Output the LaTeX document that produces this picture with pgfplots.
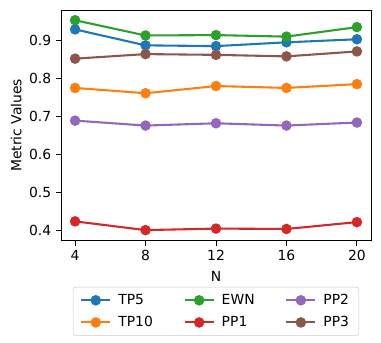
\documentclass[border=0pt]{standalone}
\usepackage{fontspec}
\setmainfont{DejaVu Sans}
\usepackage{pgfplots}
\pgfplotsset{compat=1.18}

\definecolor{c0}{HTML}{1F77B4}
\definecolor{c1}{HTML}{FF7F0E}
\definecolor{c2}{HTML}{2CA02C}
\definecolor{c3}{HTML}{D62728}
\definecolor{c4}{HTML}{9467BD}
\definecolor{c5}{HTML}{8C564B}

\begin{document}
\begin{tikzpicture}
\useasboundingbox (-43.9pt,-73.4pt) rectangle (230.2pt,173.2pt);
\begin{axis}[
    width=223pt, height=166pt,
    scale only axis,
    xmin=3.2, xmax=20.8,
    ymin=0.373, ymax=0.98,
    xtick={4,8,12,16,20},
    ytick={0.4,0.5,0.6,0.7,0.8,0.9},
    yticklabel style={/pgf/number format/.cd, fixed, fixed zerofill, precision=1},
    /pgf/number format/assume math mode=true,
    tick pos=left,
    tick align=outside,
    major tick length=3.5pt,
    tick style={black, line width=0.6pt},
    axis line style={line width=0.6pt},
    tick label style={font=\fontsize{10}{12}\selectfont},
    label style={font=\fontsize{10}{12}\selectfont},
    xlabel={N},
    ylabel={Metric Values},
    xlabel style={at={(axis description cs:0.5,-0.155)}, anchor=center},
    ylabel style={at={(axis description cs:-0.145,0.5)}, anchor=center},
    every axis plot/.append style={line width=1.5pt, mark=*, mark size=3pt},
    legend image code/.code={
        \draw[mark repeat=2, mark phase=2] plot coordinates {(0pt,0pt) (10.5pt,0pt) (21pt,0pt)};
    },
    legend style={
        at={(0.5,-0.2)}, anchor=north,
        font=\fontsize{10}{12}\selectfont,
        draw=black!20, rounded corners=2pt,
        inner xsep=5pt, inner ysep=3pt,
        /tikz/every even column/.append style={column sep=20pt},
        /tikz/every odd column/.append style={column sep=3pt},
        row sep=3pt,
    },
    legend columns=3,
    legend cell align=left,
]
\addplot[c0] coordinates {(4,0.929) (8,0.887) (12,0.885) (16,0.895) (20,0.903)};
\addlegendentry{TP5}
\addplot[c2] coordinates {(4,0.953) (8,0.913) (12,0.914) (16,0.910) (20,0.935)};
\addlegendentry{EWN}
\addplot[c4] coordinates {(4,0.689) (8,0.676) (12,0.682) (16,0.676) (20,0.684)};
\addlegendentry{PP2}
\addplot[c1] coordinates {(4,0.775) (8,0.761) (12,0.780) (16,0.775) (20,0.785)};
\addlegendentry{TP10}
\addplot[c3] coordinates {(4,0.424) (8,0.401) (12,0.405) (16,0.404) (20,0.422)};
\addlegendentry{PP1}
\addplot[c5] coordinates {(4,0.852) (8,0.864) (12,0.862) (16,0.858) (20,0.871)};
\addlegendentry{PP3}
\end{axis}
\end{tikzpicture}
\end{document}
